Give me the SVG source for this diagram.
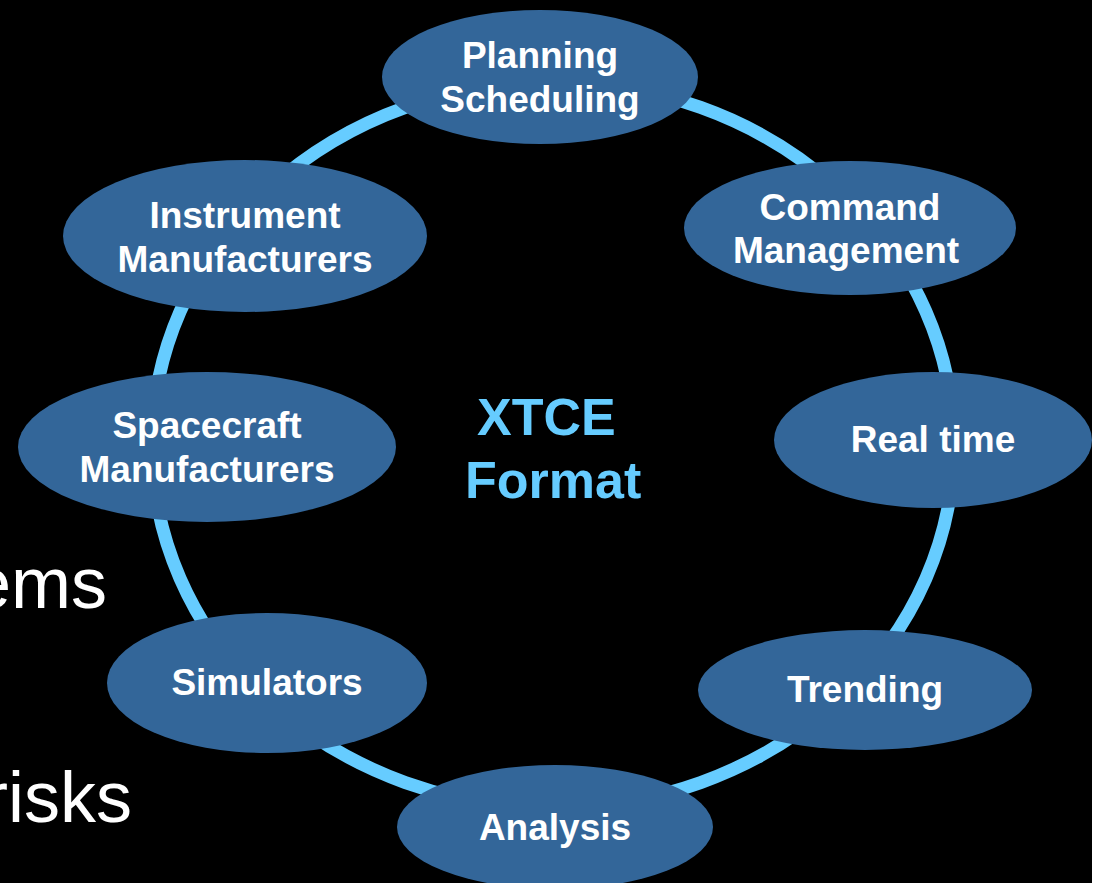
<svg xmlns="http://www.w3.org/2000/svg" width="1101" height="883" viewBox="0 0 1101 883">
  <style>
    .node { fill: #336699; }
    .lbl { fill: #FFFFFF; font-family: "Liberation Sans", Arial, sans-serif; font-weight: bold; font-size: 37px; text-anchor: middle; }
    .center { fill: #66CCFF; font-family: "Liberation Sans", Arial, sans-serif; font-weight: bold; font-size: 52px; }
    .side { fill: #FFFFFF; font-family: "Liberation Sans", Arial, sans-serif; font-size: 72px; text-anchor: end; }
  </style>
  <rect x="0" y="0" width="1101" height="883" fill="#000000"/>
  <rect x="1092" y="0" width="9" height="883" fill="#FFFFFF"/>
  <text class="side" x="107" y="608">ems</text>
  <text class="side" x="132" y="822">risks</text>
  <g id="connectors">
    <ellipse cx="553" cy="445" rx="401" ry="363" fill="none" stroke="#66CCFF" stroke-width="13"/>
  </g>
  <g id="center-label">
    <text class="center" x="477" y="435">XTCE</text>
    <text class="center" x="465" y="498">Format</text>
  </g>
  <g id="planning">
    <ellipse class="node" cx="540" cy="77" rx="158" ry="67"/>
    <text class="lbl" x="540" y="68">Planning</text>
    <text class="lbl" x="540" y="112">Scheduling</text>
  </g>
  <g id="command">
    <ellipse class="node" cx="850" cy="228" rx="166" ry="67"/>
    <text class="lbl" x="850" y="220">Command</text>
    <text class="lbl" x="846" y="263">Management</text>
  </g>
  <g id="realtime">
    <ellipse class="node" cx="933" cy="440" rx="159" ry="68"/>
    <text class="lbl" x="933" y="452">Real time</text>
  </g>
  <g id="trending">
    <ellipse class="node" cx="865" cy="690" rx="167" ry="60"/>
    <text class="lbl" x="865" y="702">Trending</text>
  </g>
  <g id="analysis">
    <ellipse class="node" cx="555" cy="827" rx="158" ry="62"/>
    <text class="lbl" x="555" y="840">Analysis</text>
  </g>
  <g id="simulators">
    <ellipse class="node" cx="267" cy="683" rx="160" ry="70"/>
    <text class="lbl" x="267" y="695">Simulators</text>
  </g>
  <g id="spacecraft">
    <ellipse class="node" cx="207" cy="447" rx="189" ry="75"/>
    <text class="lbl" x="207" y="438">Spacecraft</text>
    <text class="lbl" x="207" y="482">Manufacturers</text>
  </g>
  <g id="instrument">
    <ellipse class="node" cx="245" cy="236" rx="182" ry="76"/>
    <text class="lbl" x="245" y="228">Instrument</text>
    <text class="lbl" x="245" y="272">Manufacturers</text>
  </g>
</svg>
